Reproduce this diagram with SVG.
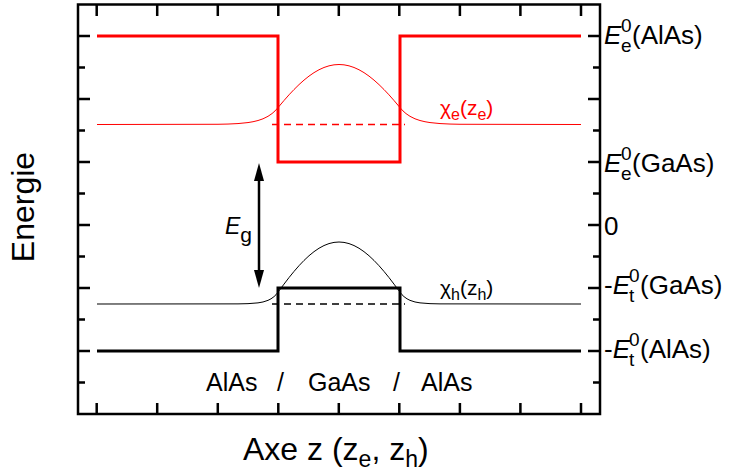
<svg xmlns="http://www.w3.org/2000/svg" width="730" height="474" viewBox="0 0 730 474">
<style>
text{font-family:"Liberation Sans",Arial,sans-serif;fill:#000}
.frame{fill:none;stroke:#000;stroke-width:2.5}
.tick{stroke:#000;stroke-width:2.5}
.thickR{fill:none;stroke:#ff0000;stroke-width:3}
.thickK{fill:none;stroke:#000;stroke-width:3}
.thinR{fill:none;stroke:#ff0000;stroke-width:1}
.thinK{fill:none;stroke:#000;stroke-width:1}
.dashR{fill:none;stroke:#ff0000;stroke-width:1.5;stroke-dasharray:7 5}
.dashK{fill:none;stroke:#000;stroke-width:1.5;stroke-dasharray:7 5}
.lbl{font-size:26px}
.sub{font-size:19px}
.mat{font-size:25px}
</style>
<defs>
<marker id="ah" markerUnits="userSpaceOnUse" markerWidth="18" markerHeight="10" refX="6" refY="5" orient="auto-start-reverse">
<path d="M0,0 L18,5 L0,10 z" fill="#000"/>
</marker>
</defs>
<g id="axes">
<rect class="frame" x="78" y="4.5" width="522" height="409.5"/>
<path class="tick" d="M96.7,4.5V16 M157.2,4.5V16 M217.8,4.5V16 M278.3,4.5V16 M338.8,4.5V16 M399.3,4.5V16 M459.9,4.5V16 M520.4,4.5V16 M581,4.5V16"/>
<path class="tick" d="M96.7,414V403 M157.2,414V403 M217.8,414V403 M278.3,414V403 M338.8,414V403 M399.3,414V403 M459.9,414V403 M520.4,414V403 M581,414V403"/>
<path class="tick" d="M78,36H90 M78,67.5H85 M78,99H90 M78,130.5H85 M78,162H90 M78,193.5H85 M78,225H90 M78,256.5H85 M78,288H90 M78,319.5H85 M78,351H90 M78,382.5H85"/>
<path class="tick" d="M600,36H588 M600,67.5H593 M600,99H588 M600,130.5H593 M600,162H588 M600,193.5H593 M600,225H588 M600,256.5H593 M600,288H588 M600,319.5H593 M600,351H588 M600,382.5H593"/>
</g>
<g id="electron-band">
<path class="thickR" d="M97,36H278V162H400V36H581"/>
</g>
<g id="electron-wave">
<path class="thinR" d="M97,124.5 L218,124.28 L228,124.05 L238,123.57 L248,122.57 L253,121.73 L258,120.53 L263,118.8 L268,116.32 L272,113.58 L275,110.94 L278,107.65 L279,106.42 L284,100.51 L289,94.84 L294,89.54 L299,84.6 L304,80.11 L309,76.1 L314,72.64 L319,69.76 L324,67.47 L329,65.83 L334,64.83 L339,64.5 L344,64.83 L349,65.83 L354,67.47 L359,69.76 L364,72.64 L369,76.1 L374,80.11 L379,84.6 L384,89.54 L389,94.84 L394,100.51 L399,106.42 L400,107.65 L403,110.94 L406,113.58 L410,116.32 L415,118.8 L420,120.53 L425,121.73 L430,122.57 L440,123.57 L450,124.05 L460,124.28 L581,124.5"/>
<path class="dashR" d="M272,124.5H405"/>
<text x="440" y="115" font-size="21" style="fill:#ff0000">χ<tspan font-size="16" dy="5">e</tspan><tspan dy="-5">(z</tspan><tspan font-size="16" dy="5">e</tspan><tspan dy="-5">)</tspan></text>
</g>
<g id="hole-band">
<path class="thickK" d="M97,351H278V288H400V351H581"/>
</g>
<g id="hole-wave">
<path class="thinK" d="M97,304 L238,303.89 L248,303.65 L258,302.87 L263,301.97 L268,300.35 L271,298.81 L274,296.63 L276,294.69 L278,292.24 L279,290.87 L284,284.12 L289,277.59 L294,271.45 L299,265.7 L304,260.44 L309,255.74 L314,251.66 L319,248.24 L324,245.54 L329,243.58 L334,242.4 L339,242 L344,242.4 L349,243.58 L354,245.54 L359,248.24 L364,251.66 L369,255.74 L374,260.44 L379,265.7 L384,271.45 L389,277.59 L394,284.12 L399,290.87 L400,292.24 L402,294.69 L404,296.63 L407,298.81 L410,300.35 L415,301.97 L420,302.87 L430,303.65 L440,303.89 L581,304"/>
<path class="dashK" d="M272,304H405"/>
<text x="440" y="295" font-size="21">χ<tspan font-size="16" dy="5">h</tspan><tspan dy="-5">(z</tspan><tspan font-size="16" dy="5">h</tspan><tspan dy="-5">)</tspan></text>
</g>
<g id="connectors">
<line x1="259" y1="175" x2="259" y2="276" stroke="#000" stroke-width="2.5" marker-start="url(#ah)" marker-end="url(#ah)"/>
</g>
<g id="gap-label">
<text x="225" y="234" font-size="23"><tspan font-style="italic">E</tspan><tspan dy="8" font-size="21">g</tspan></text>
</g>
<g id="level-labels">
<text class="lbl" y="44"><tspan x="604" font-style="italic">E</tspan><tspan class="sub" x="621" y="52">e</tspan><tspan class="sub" x="621" y="32">0</tspan><tspan x="632" y="44">(AlAs)</tspan></text>
<text class="lbl" y="172"><tspan x="604" font-style="italic">E</tspan><tspan class="sub" x="621" y="180">e</tspan><tspan class="sub" x="621" y="160">0</tspan><tspan x="632" y="172">(GaAs)</tspan></text>
<text class="lbl" x="604" y="235">0</text>
<text class="lbl" y="294"><tspan x="604">-</tspan><tspan font-style="italic">E</tspan><tspan class="sub" x="629" y="302">t</tspan><tspan class="sub" x="629" y="282">0</tspan><tspan x="640" y="294">(GaAs)</tspan></text>
<text class="lbl" y="358"><tspan x="604">-</tspan><tspan font-style="italic">E</tspan><tspan class="sub" x="629" y="366">t</tspan><tspan class="sub" x="629" y="346">0</tspan><tspan x="640" y="358">(AlAs)</tspan></text>
</g>
<g id="material-labels">
<text class="mat" x="206" y="391">AlAs</text>
<text class="mat" x="277" y="391">/</text>
<text class="mat" x="308" y="391">GaAs</text>
<text class="mat" x="393" y="391">/</text>
<text class="mat" x="421" y="391">AlAs</text>
</g>
<g id="axis-titles">
<text x="243" y="460" font-size="32">Axe z (z<tspan font-size="23" dy="7">e</tspan><tspan dy="-7">, z</tspan><tspan font-size="23" dy="7">h</tspan><tspan dy="-7">)</tspan></text>
<text transform="translate(34,207) rotate(-90)" text-anchor="middle" font-size="32">Energie</text>
</g>
</svg>
